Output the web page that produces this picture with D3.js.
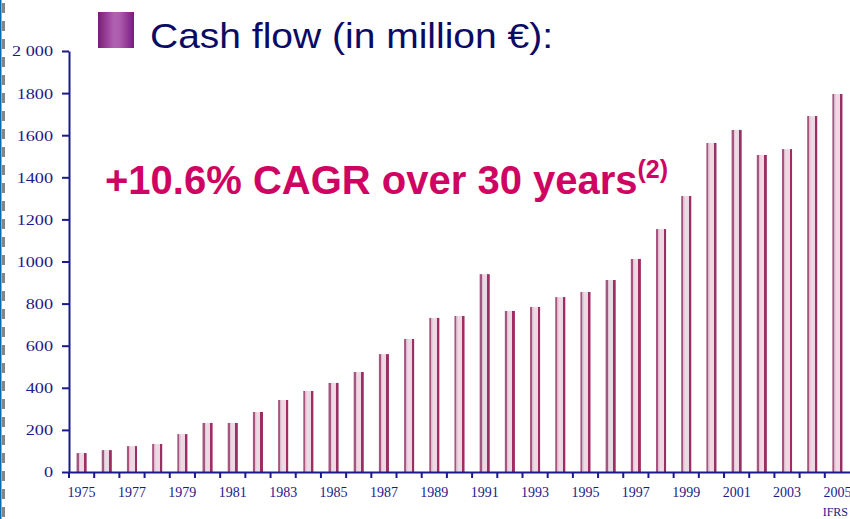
<!DOCTYPE html>
<meta charset="utf-8">
<title>cash flow</title>
<style>
body { margin: 0; background: #fff; }
svg { display: block; }
</style>
<svg id="chart"></svg>
<script src="https://cdn.jsdelivr.net/npm/d3@7"></script>
<script>
// cash flow, million euro, 1975-2005
var years = d3.range(1975, 2006);
var cashFlow = [90, 104, 123, 133, 180, 233, 233, 285, 342, 385, 423, 475, 560, 632, 732, 741,
	940, 765, 784, 831, 855, 912, 1012, 1154, 1311, 1563, 1625, 1506, 1534, 1691, 1796];
var yTicks = [0, 200, 400, 600, 800, 1000, 1200, 1400, 1600, 1800, 2000];
var yTickLabels = ["0", "200", "400", "600", "800", "1000", "1200", "1400", "1600", "1800", "2 000"];

var width = 850, height = 519;
var navy = "#1a1a8a";

var svg = d3.select("#chart").attr("width", width).attr("height", height);
var defs = svg.append("defs");

var barGrad = defs.append("linearGradient").attr("id", "barGrad");
barGrad.selectAll("stop")
	.data([[0, "#a5567f"], [0.2, "#a5567f"], [0.2, "#d9b6c9"], [0.4, "#eedbe6"], [0.75, "#ecd8e3"], [0.75, "#9b2f63"], [1, "#9b2f63"]])
	.enter().append("stop")
	.attr("offset", d => d[0])
	.attr("stop-color", d => d[1]);

var boxGrad = defs.append("linearGradient").attr("id", "boxGrad");
boxGrad.selectAll("stop")
	.data([[0, "#7d1a7d"], [0.45, "#b262b2"], [0.6, "#ad5cad"], [1, "#7d1a7d"]])
	.enter().append("stop")
	.attr("offset", d => d[0])
	.attr("stop-color", d => d[1]);

// left edge decoration
svg.append("line").attr("x1", 0.75).attr("x2", 0.75).attr("y1", 0).attr("y2", height)
	.attr("stroke", "#0a6ab0").attr("stroke-width", 1.5);
svg.append("line").attr("x1", 3.5).attr("x2", 3.5).attr("y1", 3).attr("y2", height)
	.attr("stroke", "#858585").attr("stroke-width", 3).attr("stroke-dasharray", "10,8");

var plotLeft = 69, plotRight = 850, plotTop = 51, plotBottom = 472;

var x = d3.scaleBand().domain(years).range([plotLeft, plotRight]).padding(0);
var y = d3.scaleLinear().domain([0, 2000]).range([plotBottom, plotTop]);

var barW = x.bandwidth() * 0.4;

svg.append("g").selectAll("rect")
	.data(years)
	.enter().append("rect")
	.attr("x", d => x(d) + (x.bandwidth() - barW) / 2)
	.attr("y", (d, i) => y(cashFlow[i]))
	.attr("width", barW)
	.attr("height", (d, i) => y(0) - y(cashFlow[i]))
	.attr("fill", "url(#barGrad)");

// y axis
var yAxis = svg.append("g")
	.attr("transform", "translate(" + plotLeft + ",0)")
	.call(d3.axisLeft(y).tickValues(yTicks).tickSize(7).tickSizeOuter(0)
		.tickFormat((d, i) => yTickLabels[i]));
yAxis.select(".domain").attr("stroke", navy).attr("stroke-width", 2);
yAxis.selectAll(".tick line").attr("stroke", navy).attr("stroke-width", 2);
yAxis.selectAll(".tick text")
	.attr("x", 0).attr("dy", "0.35em")
	.attr("fill", navy)
	.attr("font-family", "'Liberation Serif', 'DejaVu Serif', serif")
	.attr("font-size", 14)
	.attr("transform", "translate(-16,0) scale(1.3,1)");

// x axis: labels on odd years, ticks at band edges
var xAxis = svg.append("g")
	.attr("transform", "translate(0," + plotBottom + ")")
	.call(d3.axisBottom(x).tickValues(years.filter(d => d % 2 === 1)).tickSize(0).tickPadding(15));
xAxis.select(".domain").attr("stroke", navy).attr("stroke-width", 2);
xAxis.selectAll(".tick text")
	.attr("fill", navy)
	.attr("font-family", "'Liberation Serif', 'DejaVu Serif', serif")
	.attr("font-size", 14);
xAxis.selectAll(".edge")
	.data(years)
	.enter().append("line")
	.attr("class", "edge")
	.attr("x1", d => x(d)).attr("x2", d => x(d))
	.attr("y1", 0).attr("y2", 6)
	.attr("stroke", navy).attr("stroke-width", 2);

// title
svg.append("rect").attr("x", 98).attr("y", 12).attr("width", 36).attr("height", 36)
	.attr("fill", "url(#boxGrad)");
svg.append("text")
	.attr("x", 150).attr("y", 48)
	.attr("font-family", "'Liberation Sans', Arial, sans-serif")
	.attr("font-size", 35)
	.attr("textLength", 403)
	.attr("lengthAdjust", "spacingAndGlyphs")
	.attr("fill", "#0b0b66")
	.text("Cash flow (in million €):");

// headline
var head = svg.append("text")
	.attr("x", 105).attr("y", 194)
	.attr("font-family", "'Liberation Sans', Arial, sans-serif")
	.attr("font-weight", "bold")
	.attr("font-size", 40)
	.attr("fill", "#cf0462");
head.append("tspan").text("+10.6% CAGR over 30 years");
head.append("tspan").attr("font-size", 25).attr("dy", -16).text("(2)");

// footnote
svg.append("text")
	.attr("x", 848).attr("y", 516)
	.attr("text-anchor", "end")
	.attr("font-family", "'Liberation Serif', serif")
	.attr("font-size", 12)
	.attr("fill", navy)
	.text("IFRS");
</script>
